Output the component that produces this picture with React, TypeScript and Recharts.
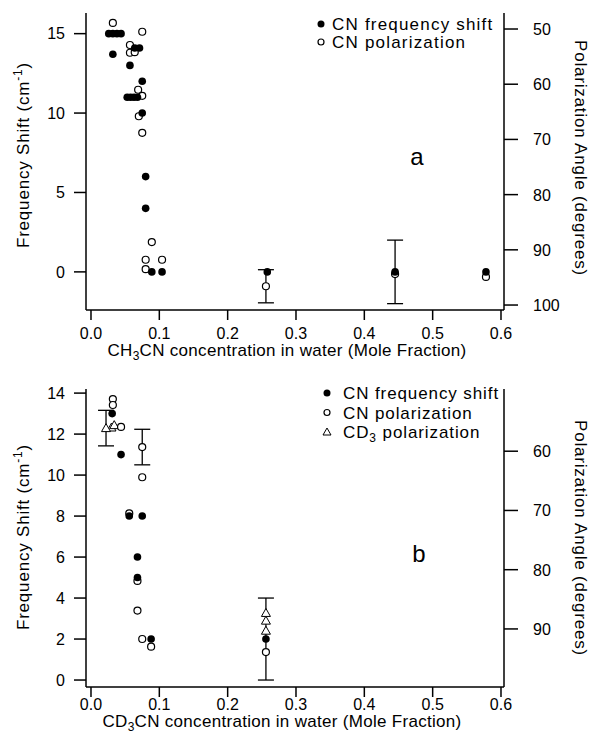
import { ScatterChart, Scatter, XAxis, YAxis, ErrorBar } from 'recharts';

// x = mole fraction, y = frequency shift (cm-1) or polarization angle (deg)
const xTicks = [0, 0.1, 0.2, 0.3, 0.4, 0.5, 0.6];
const xDomain = [-0.0073, 0.6044];

// panel a
const aShift = [
  { x: 0.026, y: 15 }, { x: 0.032, y: 15 }, { x: 0.038, y: 15 }, { x: 0.044, y: 15 },
  { x: 0.032, y: 13.7 }, { x: 0.057, y: 13 }, { x: 0.064, y: 14.1 }, { x: 0.071, y: 14.1 },
  { x: 0.075, y: 12 }, { x: 0.053, y: 11 }, { x: 0.058, y: 11 }, { x: 0.063, y: 11 },
  { x: 0.068, y: 11 }, { x: 0.075, y: 10 }, { x: 0.08, y: 6 }, { x: 0.08, y: 4 },
  { x: 0.089, y: 0 }, { x: 0.104, y: 0 }, { x: 0.258, y: 0 }, { x: 0.578, y: 0 },
];
const aShiftErr = [{ x: 0.445, y: 0, err: 2 }];
const aPol = [
  { x: 0.032, y: 48.9 }, { x: 0.075, y: 50.5 }, { x: 0.057, y: 52.9 }, { x: 0.057, y: 54.3 },
  { x: 0.064, y: 54.2 }, { x: 0.069, y: 61 }, { x: 0.075, y: 62.1 }, { x: 0.07, y: 65.8 },
  { x: 0.075, y: 68.8 }, { x: 0.089, y: 88.6 }, { x: 0.08, y: 91.8 }, { x: 0.08, y: 93.5 },
  { x: 0.104, y: 91.8 }, { x: 0.445, y: 94.4 }, { x: 0.578, y: 94.9 },
];
const aPolErr = [{ x: 0.256, y: 96.6, err: 3 }];
const aLeftTicks = [0, 5, 10, 15];
const aRightTicks = [50, 60, 70, 80, 90, 100];

// panel b
const bShift = [
  { x: 0.031, y: 13 }, { x: 0.044, y: 11 }, { x: 0.056, y: 8 }, { x: 0.075, y: 8 },
  { x: 0.068, y: 6 }, { x: 0.068, y: 5 }, { x: 0.088, y: 2 },
];
const bShiftErr = [{ x: 0.256, y: 2, err: 2 }];
const bPol = [
  { x: 0.032, y: 51.2 }, { x: 0.032, y: 52.2 }, { x: 0.044, y: 55.9 }, { x: 0.075, y: 64.4 },
  { x: 0.056, y: 70.5 }, { x: 0.068, y: 81.9 }, { x: 0.068, y: 86.9 }, { x: 0.075, y: 91.7 },
  { x: 0.088, y: 93 }, { x: 0.256, y: 93.9 },
];
const bPolErr = [{ x: 0.075, y: 59.3, err: 3 }];
const bCd3 = [
  { x: 0.03, y: 56 }, { x: 0.034, y: 55.6 }, { x: 0.256, y: 87.3 }, { x: 0.256, y: 88.6 }, { x: 0.256, y: 90.3 },
];
const bCd3Err = [{ x: 0.022, y: 56.1, err: 3 }];
const bLeftTicks = [0, 2, 4, 6, 8, 10, 12, 14];
const bRightTicks = [60, 70, 80, 90];

const legendA = ['CN frequency shift', 'CN polarization'];
const legendB = ['CN frequency shift', 'CN polarization', 'CD3 polarization'];

const FONT = '"Liberation Sans", Arial, sans-serif';
const W = 593;
const RIGHT_W = 89;
const AXIS_R = W - RIGHT_W;
const tickStyle = { fontSize: 16, fill: '#000', fontFamily: FONT };

const Filled = (p: any) => <circle cx={p.cx} cy={p.cy} r={3.8} fill="#000" />;
const Open = (p: any) => <circle cx={p.cx} cy={p.cy} r={3.5} fill="#fff" stroke="#000" strokeWidth={1.2} />;
const Tri = (p: any) => (
  <polygon
    points={`${p.cx},${p.cy - 4.5} ${p.cx - 4.5},${p.cy + 3.5} ${p.cx + 4.5},${p.cy + 3.5}`}
    fill="#fff"
    stroke="#000"
    strokeWidth={1}
  />
);

// right-hand ticks: long outward tick line and label
const RightTick = (p: any) => (
  <g>
    <line x1={AXIS_R} x2={AXIS_R + 14} y1={p.y} y2={p.y} stroke="#000" strokeWidth={1.5} />
    <text x={AXIS_R + 29} y={p.y} dy={6} fontSize={16} fontFamily={FONT} fill="#000">
      {p.payload.value}
    </text>
  </g>
);

const errBar = <ErrorBar dataKey="err" direction="y" width={8} stroke="#000" strokeWidth={1.3} />;

function xTitle(x: number, y: number, head: string) {
  return () => (
    <text x={x} y={y} textAnchor="middle" fontSize={17} fontFamily={FONT} fill="#000" style={{ letterSpacing: 0.3 }}>
      {head}
      <tspan fontSize={12} dy={4}>3</tspan>
      <tspan dy={-4}>CN concentration in water (Mole Fraction)</tspan>
    </text>
  );
}

function leftTitle(cy: number) {
  return () => (
    <text x={29} y={cy} transform={`rotate(-90, 29, ${cy})`} textAnchor="middle" fontSize={17} fontFamily={FONT} fill="#000" style={{ letterSpacing: 0.8 }}>
      Frequency Shift (cm<tspan fontSize={12} dy={-7}>-1</tspan>
      <tspan dy={7}>)</tspan>
    </text>
  );
}

function rightTitle(cy: number) {
  return () => (
    <text x={575} y={cy} transform={`rotate(90, 575, ${cy})`} textAnchor="middle" fontSize={17} fontFamily={FONT} fill="#000" style={{ letterSpacing: 0.8 }}>
      Polarization Angle (degrees)
    </text>
  );
}

function LegendRows({ items, x, tx, y0, gap, ls }: { items: string[]; x: number; tx: number; y0: number; gap: number; ls: number }) {
  return (
    <g>
      {items.map((t, i) => {
        const cy = y0 + i * gap;
        const sym =
          i === 0 ? <circle cx={x} cy={cy} r={3.5} fill="#000" /> :
          i === 1 ? <circle cx={x} cy={cy} r={3} fill="#fff" stroke="#000" strokeWidth={1.2} /> :
          <polygon points={`${x},${cy - 4} ${x - 4},${cy + 3} ${x + 4},${cy + 3}`} fill="#fff" stroke="#000" strokeWidth={1} />;
        const sub = t.startsWith('CD3');
        return (
          <g key={t}>
            {sym}
            <text x={tx} y={cy + 6} fontSize={17} fontFamily={FONT} fill="#000" style={{ letterSpacing: ls }}>
              {sub ? (
                <>
                  CD<tspan fontSize={12} dy={4}>3</tspan>
                  <tspan dy={-4}>{t.slice(3)}</tspan>
                </>
              ) : t}
            </text>
          </g>
        );
      })}
    </g>
  );
}

const axisCommon = { stroke: '#000', strokeWidth: 1.5, tick: tickStyle, interval: 0 as const, allowDataOverflow: true };

export default function App() {
  return (
    <div style={{ position: 'absolute', left: 0, top: 0, width: W, height: 743, background: '#fff', fontFamily: FONT }}>
      <ScatterChart width={W} height={375} margin={{ top: 13, right: 0, bottom: 25, left: 0 }}>
        <XAxis
          type="number" dataKey="x" domain={xDomain} ticks={xTicks} tickFormatter={(v: number) => v.toFixed(1)}
          height={40} tickSize={10} tickMargin={8} {...axisCommon}
          label={{ content: xTitle(287, 356, 'CH') }}
        />
        <XAxis xAxisId="top" orientation="top" type="number" domain={xDomain} tick={false} tickLine={false} height={0} stroke="#000" strokeWidth={1.5} />
        <YAxis
          yAxisId="L" type="number" dataKey="y" domain={[-2.4, 16.3]} ticks={aLeftTicks} width={86}
          tickSize={12} tickMargin={9} {...axisCommon} label={{ content: leftTitle(155) }}
        />
        <YAxis
          yAxisId="R" orientation="right" type="number" dataKey="y" domain={[47.1, 100.9]} reversed ticks={aRightTicks}
          width={RIGHT_W} {...axisCommon} tick={RightTick} tickLine={false} label={{ content: rightTitle(158) }}
        />
        <Scatter data={aPol} yAxisId="R" shape={Open} isAnimationActive={false} />
        <Scatter data={aPolErr} yAxisId="R" shape={Open} isAnimationActive={false}>{errBar}</Scatter>
        <Scatter data={aShift} yAxisId="L" shape={Filled} isAnimationActive={false} />
        <Scatter data={aShiftErr} yAxisId="L" shape={Filled} isAnimationActive={false}>{errBar}</Scatter>
      </ScatterChart>
      <ScatterChart width={W} height={368} margin={{ top: 14, right: 0, bottom: 16, left: 0 }}>
        <XAxis
          type="number" dataKey="x" domain={xDomain} ticks={xTicks} tickFormatter={(v: number) => v.toFixed(1)}
          height={40} tickSize={10} tickMargin={2} {...axisCommon}
          label={{ content: xTitle(282, 352, 'CD') }}
        />
        <XAxis xAxisId="top" orientation="top" type="number" domain={xDomain} tick={false} tickLine={false} height={0} stroke="#000" strokeWidth={1.5} />
        <YAxis
          yAxisId="L" type="number" dataKey="y" domain={[-0.34, 14.2]} ticks={bLeftTicks} width={86}
          tickSize={12} tickMargin={9} {...axisCommon} label={{ content: leftTitle(162) }}
        />
        <YAxis
          yAxisId="R" orientation="right" type="number" dataKey="y" domain={[49.5, 99.8]} reversed ticks={bRightTicks}
          width={RIGHT_W} {...axisCommon} tick={RightTick} tickLine={false} label={{ content: rightTitle(163) }}
        />
        <Scatter data={bCd3} yAxisId="R" shape={Tri} isAnimationActive={false} />
        <Scatter data={bCd3Err} yAxisId="R" shape={Tri} isAnimationActive={false}>{errBar}</Scatter>
        <Scatter data={bPol} yAxisId="R" shape={Open} isAnimationActive={false} />
        <Scatter data={bPolErr} yAxisId="R" shape={Open} isAnimationActive={false}>{errBar}</Scatter>
        <Scatter data={bShift} yAxisId="L" shape={Filled} isAnimationActive={false} />
        <Scatter data={bShiftErr} yAxisId="L" shape={Filled} isAnimationActive={false}>{errBar}</Scatter>
      </ScatterChart>
      <svg width={W} height={743} style={{ position: 'absolute', left: 0, top: 0, pointerEvents: 'none' }}>
        <LegendRows items={legendA} x={321} tx={332} y0={24} gap={18} ls={1.2} />
        <LegendRows items={legendB} x={327} tx={343} y0={393} gap={19.5} ls={0.9} />
        <text x={417} y={165} textAnchor="middle" fontSize={24} fontFamily={FONT}>a</text>
        <text x={419} y={562} textAnchor="middle" fontSize={24} fontFamily={FONT}>b</text>
      </svg>
    </div>
  );
}
